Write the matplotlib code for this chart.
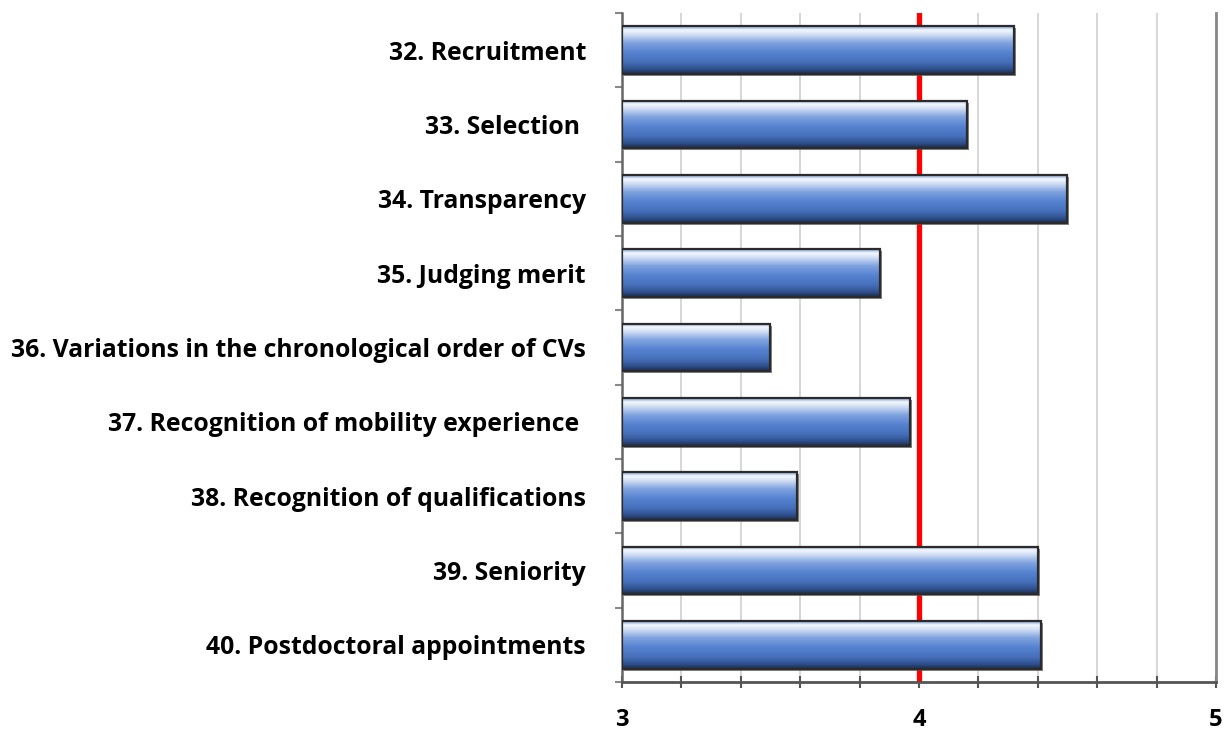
import numpy as np
import matplotlib
matplotlib.use("Agg")
import matplotlib.pyplot as plt
from matplotlib.colors import LinearSegmentedColormap
from matplotlib.transforms import offset_copy

labels = ["32. Recruitment", "33. Selection ", "34. Transparency", "35. Judging merit",
          "36. Variations in the chronological order of CVs",
          "37. Recognition of mobility experience ", "38. Recognition of qualifications",
          "39. Seniority", "40. Postdoctoral appointments"]
values = [4.32, 4.16, 4.50, 3.87, 3.50, 3.97, 3.59, 4.40, 4.41]
ref_line = 4.0

plt.rcParams['font.family'] = ['Open Sans', 'DejaVu Sans']
fig = plt.figure(figsize=(12.31, 7.31), dpi=100)
ax = fig.add_axes([622/1231, 1-682/731, (1216-622)/1231, (682-13)/731])

n = len(values)
ypos = np.arange(n)
h = 0.64

# gradient along bar height: 0 = top edge, 1 = bottom edge
cmap = LinearSegmentedColormap.from_list("barshade", [
    (0.0, "#7f9fd6"), (0.08, "#f4f8fd"), (0.18, "#cfdcf3"), (0.35, "#7fa3e0"),
    (0.55, "#5582d0"), (0.75, "#4670bb"), (0.9, "#2f4f8c"), (1.0, "#1b2b4c")])
grad = np.linspace(0, 1, 200).reshape(-1, 1)
shadow_tr = offset_copy(ax.transData, fig=fig, x=2, y=-2, units="dots")

for y, v in zip(ypos, values):
    ax.add_patch(plt.Rectangle((3, y - h/2), v - 3, h, facecolor="#555555", edgecolor="none",
                               alpha=0.7, zorder=2.8, transform=shadow_tr))
    ax.imshow(grad, cmap=cmap, aspect="auto", origin="upper",
              extent=[3, v, y + h/2, y - h/2], zorder=3, interpolation="bilinear")
    ax.add_patch(plt.Rectangle((3, y - h/2), v - 3, h, facecolor="none",
                               edgecolor="#2b2b2b", linewidth=1.6, zorder=4))

ax.set_xlim(3, 5)
ax.set_ylim(n - 0.5, -0.5)
ax.set_xticks(np.arange(3, 5.01, 0.2), minor=True)
ax.set_xticks([3, 4, 5])
ax.set_xticklabels(["3", "4", "5"], fontsize=17, fontweight="bold")
ax.grid(axis="x", which="both", color="#d0d0d0", linewidth=1.2, zorder=0)
ax.set_axisbelow(True)
ax.axvline(ref_line, color="#ff0000", linewidth=3.8, zorder=2.5)

ax.set_yticks(ypos)
ax.set_yticklabels(labels, fontsize=17.8, fontweight="bold")
ax.set_yticks(np.arange(-0.5, n, 1), minor=True)
ax.tick_params(axis="y", which="major", length=0, pad=26)
ax.tick_params(axis="y", which="minor", length=5, color="#888888", width=1.5)
ax.tick_params(axis="x", which="both", length=8, direction="inout", color="#555555", width=1.5, pad=15)

ax.spines["top"].set_visible(False)
ax.spines["left"].set_color("#666666")
ax.spines["left"].set_linewidth(1.8)
ax.spines["bottom"].set_color("#555555")
ax.spines["bottom"].set_linewidth(2)
ax.spines["right"].set_color("#888888")
ax.spines["right"].set_linewidth(2)

fig.savefig("out.png", dpi=100)
